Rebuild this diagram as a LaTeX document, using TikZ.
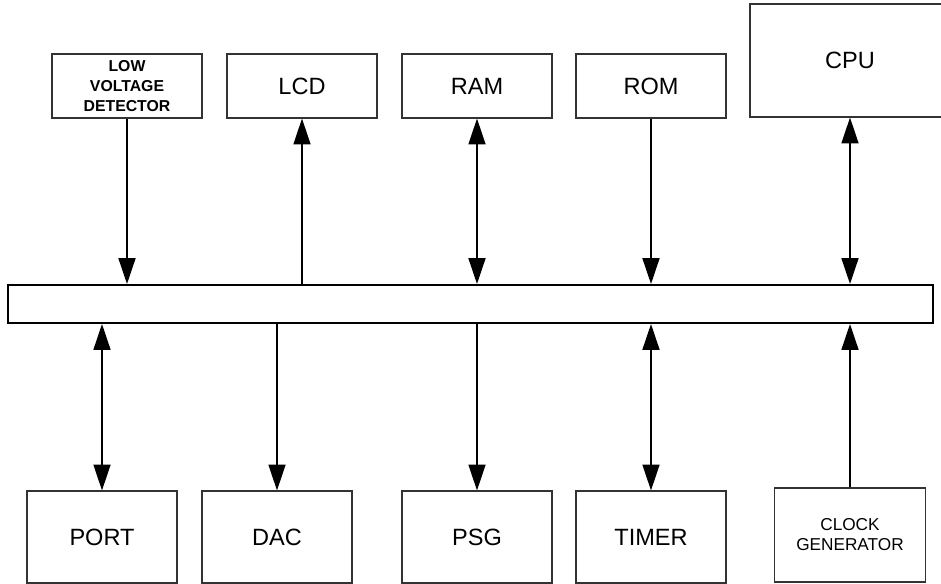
\documentclass[tikz,border=0pt]{standalone}
\usepackage{fontspec}
\setmainfont{Liberation Sans}
\usepackage{tikz}
\usetikzlibrary{arrows.meta, positioning, calc}

\tikzset{
    block/.style={draw=black!80, line width=0.6pt, minimum width=3cm, minimum height=1.28cm, inner sep=0pt, align=center, font=\fontsize{13.4}{16}\selectfont},
    busbar/.style={draw=black, line width=1.1pt, minimum width=18.5cm, minimum height=0.76cm, inner sep=0pt},
    link/.style={line width=1.1pt, -{Triangle[length=14.7pt, width=9.6pt]}},
    both/.style={line width=1.1pt, {Triangle[length=14.7pt, width=9.6pt]}-{Triangle[length=14.7pt, width=9.6pt]}}
}

\begin{document}
\begin{tikzpicture}[x=0.02cm, y=-0.02cm]
        \useasboundingbox (0,0) rectangle (941,584);

        % system bus
        \node[busbar] (bus) at (470.5,304) {};

        % upper row
        \node[block, font=\bfseries\fontsize{9}{11.3}\selectfont] (lvd) at (127,86) {LOW\\VOLTAGE\\DETECTOR};
        \node[block] (lcd) at (302,86) {LCD};
        \node[block] (ram) at (477,86) {RAM};
        \node[block] (rom) at (651,86) {ROM};
        \node[block, minimum width=4cm, minimum height=2.26cm] (cpu) at (850,60.5) {CPU};

        % lower row
        \node[block, minimum height=1.84cm] (port) at (102,537) {PORT};
        \node[block, minimum height=1.84cm] (dac) at (277,537) {DAC};
        \node[block, minimum height=1.84cm] (psg) at (477,537) {PSG};
        \node[block, minimum height=1.84cm] (timer) at (651,537) {TIMER};
        \node[block, minimum width=3.02cm, minimum height=1.88cm, font=\fontsize{9.8}{11.3}\selectfont] (clk) at (850,535) {CLOCK\\GENERATOR};

        \draw[link] (lvd.south) -- (lvd.south |- bus.north);
        \draw[link] (lcd.south |- bus.north) -- (lcd.south);
        \draw[both] (ram.south) -- (ram.south |- bus.north);
        \draw[link] (rom.south) -- (rom.south |- bus.north);
        \draw[both] (cpu.south) -- (cpu.south |- bus.north);

        \draw[both] (port.north) -- (port.north |- bus.south);
        \draw[link] (dac.north |- bus.south) -- (dac.north);
        \draw[link] (psg.north |- bus.south) -- (psg.north);
        \draw[both] (timer.north) -- (timer.north |- bus.south);
        \draw[link] (clk.north) -- (clk.north |- bus.south);
    \end{tikzpicture}
\end{document}
